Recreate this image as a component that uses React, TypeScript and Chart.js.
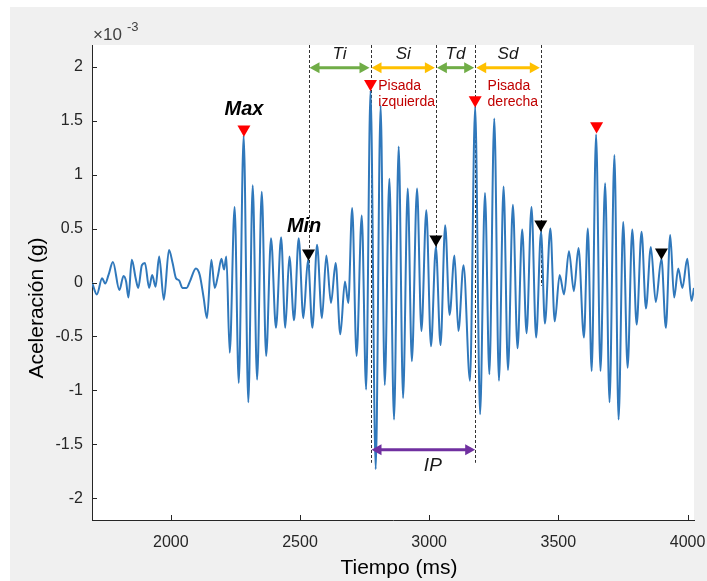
import React, { useEffect, useRef } from 'react';
import { Chart, registerables } from 'chart.js';
Chart.register(...registerables);

// Signal extrema (time in ms, acceleration in 1e-3 g)
const timeMs = [
  1695, 1714, 1734, 1746, 1759, 1776, 1801, 1817, 1827, 1836, 1849, 1864, 1874, 1888, 1900, 1916, 1928, 1941, 1955, 1973,
  1993, 2007, 2020, 2032, 2045, 2061, 2074, 2097, 2112, 2127, 2140, 2157, 2170, 2183, 2196, 2206, 2215, 2228, 2247, 2263,
  2282, 2300, 2317, 2334, 2352, 2369, 2388, 2407, 2427, 2443, 2459, 2477, 2495, 2513, 2531, 2548, 2566, 2585, 2602, 2620,
  2638, 2656, 2674, 2687, 2702, 2719, 2739, 2756, 2773, 2793, 2812, 2828, 2846, 2864, 2882, 2899, 2917, 2933, 2953, 2970,
  2989, 3007, 3026, 3044, 3062, 3079, 3098, 3113, 3133, 3158, 3178, 3197, 3216, 3233, 3252, 3270, 3288, 3305, 3324, 3342,
  3360, 3377, 3396, 3414, 3433, 3448, 3469, 3486, 3505, 3522, 3541, 3560, 3578, 3599, 3614, 3629, 3646, 3663, 3681, 3698,
  3717, 3733, 3751, 3768, 3786, 3803, 3822, 3839, 3858, 3877, 3899, 3916, 3933, 3948, 3964, 3980, 3999, 4015, 4025,
];
const accel = [
  0.0, -0.11, 0.04, -0.01, 0.07, 0.19, -0.07, 0.06, 0.01, -0.14, 0.21, 0.04, -0.05, 0.16, 0.18, -0.05, 0.07, -0.04, 0.24, -0.16,
  0.30, 0.18, 0.04, 0.02, -0.05, -0.05, 0.01, 0.13, 0.07, -0.14, -0.33, 0.21, -0.05, 0.07, 0.22, 0.12, 0.24, -0.65, 0.70, -0.93,
  1.36, -1.11, 0.90, -0.90, 0.84, -0.68, 0.41, -0.42, 0.42, -0.42, 0.24, -0.35, 0.41, -0.33, 0.21, -0.42, 0.35, -0.33, 0.25, -0.19,
  0.18, -0.48, 0.01, -0.19, 0.69, -0.68, 0.62, -0.99, 1.78, -1.73, 1.64, -0.95, 0.96, -1.27, 1.26, -1.07, 0.87, -0.73, 0.87, -0.45,
  0.67, -0.59, 0.33, -0.58, 0.53, -0.30, 0.25, -0.45, 0.16, -0.91, 1.63, -1.22, 0.83, -0.85, 1.52, -0.91, 0.89, -0.81, 0.72, -0.61,
  0.49, -0.47, 0.70, -0.51, 0.47, -0.38, 0.50, -0.36, 0.07, -0.11, 0.29, -0.08, 0.32, -0.51, 0.50, -0.82, 1.37, -0.82, 0.92, -1.11,
  1.18, -1.27, 0.56, -0.79, 0.49, -0.39, 0.47, -0.24, 0.33, -0.18, 0.22, -0.42, 0.44, -0.14, 0.13, -0.05, 0.22, -0.17, -0.05,
];

const xTicks = [2000, 2500, 3000, 3500, 4000];
const yTicks = [-2, -1.5, -1, -0.5, 0, 0.5, 1, 1.5, 2];
const xTitle = 'Tiempo (ms)';
const yTitle = 'Aceleración (g)';

const peakTimes = [2283, 2773, 3178, 3648];
const peakMarkY = [1.42, 1.84, 1.69, 1.45];
const minTimes = [2533, 3026, 3432, 3899];
const minMarkY = [0.27, 0.4, 0.54, 0.28];

const guideX = [2533, 2773, 3026, 3178, 3432];
const guideEndY = [0.11, -1.67, 0.16, -1.67, -0.03];

const phaseNames = ['Ti', 'Si', 'Td', 'Sd'];
const phaseFrom = [2533, 2773, 3026, 3178];
const phaseTo = [2773, 3026, 3178, 3432];
const phaseColors = ['#70ad47', '#ffc000', '#70ad47', '#ffc000'];
const phaseArrowY = 1.99;
const phaseLabelY = 2.11;

const ipName = 'IP';
const ipFrom = 2773;
const ipTo = 3178;
const ipArrowY = -1.55;
const ipLabelY = -1.7;

const FONT = '"Liberation Sans", Arial, Helvetica, sans-serif';
const AXIS_COLOR = '#262626';

function drawArrow(ctx: CanvasRenderingContext2D, x1: number, x2: number, y: number, color: string) {
  const head = 10;
  const hw = 5.5;
  ctx.save();
  ctx.strokeStyle = color;
  ctx.fillStyle = color;
  ctx.lineWidth = 3;
  ctx.setLineDash([]);
  ctx.beginPath();
  ctx.moveTo(x1 + head - 1, y);
  ctx.lineTo(x2 - head + 1, y);
  ctx.stroke();
  ctx.beginPath();
  ctx.moveTo(x1, y);
  ctx.lineTo(x1 + head, y - hw);
  ctx.lineTo(x1 + head, y + hw);
  ctx.closePath();
  ctx.fill();
  ctx.beginPath();
  ctx.moveTo(x2, y);
  ctx.lineTo(x2 - head, y - hw);
  ctx.lineTo(x2 - head, y + hw);
  ctx.closePath();
  ctx.fill();
  ctx.restore();
}

const backgroundPlugin = {
  id: 'figBackground',
  beforeDraw(chart: any) {
    const { ctx, width, height, chartArea } = chart;
    ctx.save();
    ctx.fillStyle = '#ffffff';
    ctx.fillRect(0, 0, width, height);
    ctx.fillStyle = '#f0f0f0';
    ctx.fillRect(10, 7, width - 10, height - 7);
    ctx.fillStyle = '#ffffff';
    ctx.fillRect(chartArea.left, chartArea.top, chartArea.right - chartArea.left, chartArea.bottom - chartArea.top);
    ctx.restore();
  },
};

const guidesPlugin = {
  id: 'guides',
  beforeDatasetsDraw(chart: any) {
    const { ctx, scales } = chart;
    const xs = scales.x;
    const ys = scales.y;
    ctx.save();
    ctx.strokeStyle = '#333333';
    ctx.lineWidth = 1;
    ctx.setLineDash([3, 2]);
    guideX.forEach((t, i) => {
      const px = Math.round(xs.getPixelForValue(t)) + 0.5;
      ctx.beginPath();
      ctx.moveTo(px, ys.getPixelForValue(ys.max));
      ctx.lineTo(px, ys.getPixelForValue(guideEndY[i]));
      ctx.stroke();
    });
    ctx.restore();
  },
  afterDatasetsDraw(chart: any) {
    const { ctx, scales } = chart;
    const xs = scales.x;
    const ys = scales.y;
    phaseNames.forEach((name, i) => {
      const x1 = xs.getPixelForValue(phaseFrom[i]);
      const x2 = xs.getPixelForValue(phaseTo[i]);
      drawArrow(ctx, x1 + 1, x2 - 1, ys.getPixelForValue(phaseArrowY), phaseColors[i]);
      ctx.save();
      ctx.fillStyle = '#1a1a1a';
      ctx.font = `italic 17px ${FONT}`;
      ctx.textAlign = 'center';
      ctx.textBaseline = 'middle';
      ctx.fillText(name, (x1 + x2) / 2, ys.getPixelForValue(phaseLabelY));
      ctx.restore();
    });
    const ix1 = xs.getPixelForValue(ipFrom);
    const ix2 = xs.getPixelForValue(ipTo);
    drawArrow(ctx, ix1 + 1, ix2, ys.getPixelForValue(ipArrowY), '#7030a0');
    ctx.save();
    ctx.fillStyle = '#1a1a1a';
    ctx.font = `italic 19px ${FONT}`;
    ctx.textAlign = 'center';
    ctx.textBaseline = 'middle';
    ctx.fillText(ipName, (ix1 + ix2) / 2 + 10, ys.getPixelForValue(ipLabelY));

    ctx.font = `italic bold 20px ${FONT}`;
    ctx.fillStyle = '#000000';
    ctx.fillText('Max', xs.getPixelForValue(2283), ys.getPixelForValue(1.6));
    ctx.fillText('Min', xs.getPixelForValue(2516), ys.getPixelForValue(0.52));

    ctx.font = `14px ${FONT}`;
    ctx.fillStyle = '#c00000';
    ctx.textAlign = 'left';
    ctx.fillText('Pisada', xs.getPixelForValue(2803), ys.getPixelForValue(1.82));
    ctx.fillText('izquierda', xs.getPixelForValue(2803), ys.getPixelForValue(1.67));
    ctx.fillText('Pisada', xs.getPixelForValue(3226), ys.getPixelForValue(1.82));
    ctx.fillText('derecha', xs.getPixelForValue(3226), ys.getPixelForValue(1.67));
    ctx.restore();
  },
  afterDraw(chart: any) {
    const { ctx, scales, chartArea } = chart;
    const xs = scales.x;
    const ys = scales.y;
    ctx.save();
    ctx.strokeStyle = AXIS_COLOR;
    ctx.lineWidth = 1;
    xTicks.forEach((v) => {
      const px = Math.round(xs.getPixelForValue(v)) + 0.5;
      ctx.beginPath();
      ctx.moveTo(px, chartArea.bottom);
      ctx.lineTo(px, chartArea.bottom - 5);
      ctx.stroke();
    });
    yTicks.forEach((v) => {
      const py = Math.round(ys.getPixelForValue(v)) + 0.5;
      ctx.beginPath();
      ctx.moveTo(chartArea.left, py);
      ctx.lineTo(chartArea.left + 5, py);
      ctx.stroke();
    });
    // exponent label
    ctx.fillStyle = '#404040';
    ctx.textBaseline = 'alphabetic';
    ctx.textAlign = 'left';
    ctx.font = `17px ${FONT}`;
    ctx.fillText('\u00d710', chartArea.left + 1, chartArea.top - 5);
    ctx.font = `13px ${FONT}`;
    ctx.fillText('-3', chartArea.left + 35, chartArea.top - 14);
    // axis titles
    ctx.fillStyle = '#000000';
    ctx.textAlign = 'center';
    ctx.textBaseline = 'middle';
    ctx.font = `21px ${FONT}`;
    ctx.fillText(xTitle, (chartArea.left + chartArea.right) / 2 + 6, 568);
    ctx.translate(37, 308);
    ctx.rotate(-Math.PI / 2);
    ctx.fillText(yTitle, 0, 0);
    ctx.restore();
  },
};

export default function App() {
  const canvasRef = useRef<HTMLCanvasElement | null>(null);

  useEffect(() => {
    if (!canvasRef.current) return;
    Chart.defaults.font.family = FONT;
    const signal = timeMs.map((t, i) => ({ x: t, y: accel[i] }));
    const redMarks = peakTimes.map((t, i) => ({ x: t, y: peakMarkY[i] }));
    const blackMarks = minTimes.map((t, i) => ({ x: t, y: minMarkY[i] }));

    const chart = new Chart(canvasRef.current, {
      type: 'line',
      data: {
        datasets: [
          {
            label: 'Pisadas',
            data: redMarks,
            showLine: false,
            pointStyle: 'triangle',
            rotation: 180,
            pointRadius: 7.5,
            pointBackgroundColor: '#ff0000',
            pointBorderWidth: 0,
            order: 0,
          } as any,
          {
            label: 'Mínimos',
            data: blackMarks,
            showLine: false,
            pointStyle: 'triangle',
            rotation: 180,
            pointRadius: 7.5,
            pointBackgroundColor: '#000000',
            pointBorderWidth: 0,
            order: 0,
          } as any,
          {
            label: 'Aceleración',
            data: signal,
            borderColor: '#3078bb',
            borderWidth: 2,
            pointRadius: 0,
            cubicInterpolationMode: 'monotone',
            fill: false,
            order: 2,
          } as any,
        ],
      },
      options: {
        responsive: false,
        maintainAspectRatio: false,
        animation: false,
        layout: { padding: { top: 45, right: 13, left: 0, bottom: 0 } },
        plugins: {
          legend: { display: false },
          tooltip: { enabled: false },
        },
        scales: {
          x: {
            type: 'linear',
            min: 1695,
            max: 4025,
            grid: { display: false, drawTicks: false },
            border: { display: true, color: AXIS_COLOR, width: 1 },
            afterBuildTicks: (s: any) => {
              s.ticks = xTicks.map((v) => ({ value: v }));
            },
            afterFit: (s: any) => {
              s.height = 61;
              s.paddingLeft = 0;
              s.paddingRight = 0;
            },
            ticks: {
              color: AXIS_COLOR,
              font: { size: 16 },
              padding: 13,
              maxRotation: 0,
              callback: (v: any) => String(v),
            },
            title: { display: false },
          },
          y: {
            type: 'linear',
            min: -2.2,
            max: 2.2,
            grid: { display: false, drawTicks: false },
            border: { display: true, color: AXIS_COLOR, width: 1 },
            afterBuildTicks: (s: any) => {
              s.ticks = yTicks.map((v) => ({ value: v }));
            },
            afterFit: (s: any) => {
              s.width = 92;
            },
            ticks: {
              color: AXIS_COLOR,
              font: { size: 16 },
              padding: 9,
              callback: (v: any) => String(v),
            },
            title: { display: false },
          },
        },
      },
      plugins: [backgroundPlugin, guidesPlugin],
    });
    return () => chart.destroy();
  }, []);

  return (
    <div style={{ position: 'fixed', left: 0, top: 0, width: 707, height: 581 }}>
      <canvas ref={canvasRef} width={707} height={581} style={{ display: 'block' }} />
    </div>
  );
}
